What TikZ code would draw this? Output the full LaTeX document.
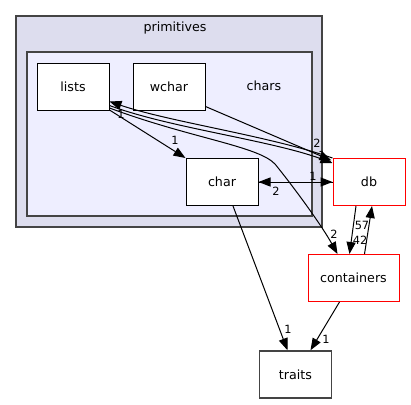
\documentclass[tikz,border=0pt]{standalone}
\usepackage{fontspec}
\setmainfont{DejaVu Sans}
\usetikzlibrary{arrows.meta,calc}
\definecolor{outerfill}{HTML}{DDDDEE}
\definecolor{innerfill}{HTML}{EEEEFF}
\definecolor{frame}{HTML}{444444}
\begin{document}
\begin{tikzpicture}[x=0.75pt,y=-0.75pt,
  dirbox/.style={draw=black,fill=white,line width=0.75pt,minimum width=54pt,minimum height=35.25pt,inner sep=0pt,font=\fontsize{9.5}{11}\selectfont},
  redbox/.style={dirbox,draw=red},
  graybox/.style={dirbox,draw=frame,line width=1.1pt},
  cluster/.style={draw=frame,line width=1.1pt},
  edge/.style={draw=black,line width=0.75pt,-{Triangle[length=9pt,width=6.8pt]}},
  lbl/.style={font=\fontsize{8.5}{9}\selectfont,inner sep=0pt,text=black}]
\useasboundingbox (0,0) rectangle (411,404);
% clusters
\node[cluster,fill=outerfill,minimum width=229.5pt,minimum height=158.25pt,inner sep=0pt] (prim) at (169,121.5) {};
\node[font=\fontsize{9.5}{11}\selectfont] (primlbl) at (175,28) {primitives};
\node[cluster,fill=innerfill,minimum width=213.75pt,minimum height=123pt,inner sep=0pt] (chars) at (169.5,134) {};
\node[font=\fontsize{9.5}{11}\selectfont] (charslbl) at (264,86) {chars};
% nodes
\node[dirbox] (lists) at (73,86.5) {lists};
\node[dirbox] (wchar) at (169,86.5) {wchar};
\node[dirbox] (char) at (222,182) {char};
\node[redbox] (db) at (369,182) {db};
\node[redbox,minimum width=68.25pt] (containers) at (353.5,278) {containers};
\node[graybox] (traits) at (295.5,374.5) {traits};
% coordinates on borders
\coordinate (lA) at ($(lists.east)+(0,15)$);
\coordinate (lB) at ($(lists.east)+(0,19)$);
\coordinate (lC) at ($(lists.east)+(0,21.5)$);
\coordinate (lD) at ($(lists.south east)+(0,-0.5)$);
\coordinate (dA) at ($(db.north west)+(0,0)$);
\coordinate (dB) at ($(db.north west)+(0,5)$);
\coordinate (dW) at ($(db.north west)+(-1,2.5)$);
% edges
\draw[edge] (dA) .. controls (270,136) and (170,122) .. (lA);
\draw[edge] (lB) .. controls (170,128) and (270,140) .. (dB);
\draw[edge] (lC) .. controls (190,138) and (258,146) .. (275,164) .. controls (296,190) and (322,226) .. ($(containers.north)+(-16,0)$);
\draw[edge] ($(wchar.south east)+(0,-4)$) -- (dW);
\draw[edge] (lD) -- (char.north west);
\draw[edge] (char.east) -- (db.west);
\draw[edge] (db.west) -- (char.east);
\draw[edge] ($(db.south)+(-13,0)$) -- ($(containers.north)+(-4,0)$);
\draw[edge] ($(containers.north)+(11,0)$) -- ($(db.south)+(3,0)$);
\draw[edge] ($(char.south)+(11,0)$) -- ($(traits.north)+(-8,0)$);
\draw[edge] ($(containers.south)+(-14,0)$) -- ($(traits.north)+(15,0)$);
% labels
\node[lbl] (l1) at (121,114) {1};
\node[lbl] (l2) at (175,140) {1};
\node[lbl] (l3) at (317,143) {2};
\node[lbl] (l4) at (322,155) {1};
\node[lbl] (l5) at (313,176) {1};
\node[lbl] (l6) at (276,191) {2};
\node[lbl] (l7) at (334,234) {2};
\node[lbl] (l8) at (362,225) {57};
\node[lbl] (l9) at (360,240) {42};
\node[lbl] (l10) at (288,329) {1};
\node[lbl] (l11) at (326,339) {1};
\end{tikzpicture}
\end{document}
